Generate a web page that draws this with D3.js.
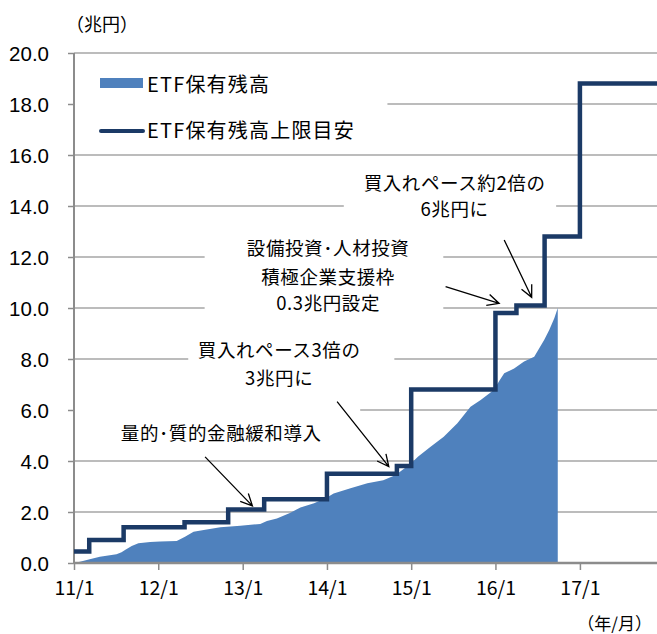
<!DOCTYPE html>
<html>
<head>
<meta charset="utf-8">
<script src="https://cdn.jsdelivr.net/npm/d3@7"></script>
<style>
  body { margin: 0; background: #fff; }
  svg { display: block; }
</style>
</head>
<body>
<svg id="chart" width="657" height="634"></svg>
<script>
// ---- data -----------------------------------------------------------
const xTickDates  = ["2011-01-01","2012-01-01","2013-01-01","2014-01-01","2015-01-01","2016-01-01","2017-01-01"];
const xTickLabels = ["11/1","12/1","13/1","14/1","15/1","16/1","17/1"];
const yTickValues = [0, 2, 4, 6, 8, 10, 12, 14, 16, 18, 20];
const yTickLabels = ["0.0","2.0","4.0","6.0","8.0","10.0","12.0","14.0","16.0","18.0","20.0"];

// ETF保有残高上限目安 (step changes, 兆円)
const capDates  = ["2011-01-01","2011-03-08","2011-08-04","2012-04-24","2012-10-30","2013-04-04",
                   "2014-01-01","2014-10-31","2015-01-01","2016-01-01","2016-04-01","2016-08-01",
                   "2017-01-01","2017-12-01"];
const capValues = [0.45, 0.9, 1.4, 1.6, 2.1, 2.5, 3.5, 3.8, 6.8, 9.8, 10.1, 12.8, 18.8, 18.8];

// ETF保有残高 (兆円)
const etfDates  = ["2011-01-01","2011-01-27","2011-03-10","2011-04-23","2011-07-04","2011-07-26",
                   "2011-08-10","2011-09-08","2011-10-07","2011-11-27","2012-01-09","2012-03-21",
                   "2012-04-26","2012-06-02","2012-07-16","2012-09-26","2012-12-22","2013-03-18",
                   "2013-04-16","2013-05-29","2013-07-27","2013-09-08","2013-11-06","2013-12-28",
                   "2014-01-30","2014-04-13","2014-06-25","2014-09-02","2014-10-26","2015-01-01",
                   "2015-01-30","2015-03-26","2015-05-22","2015-07-20","2015-09-15","2015-10-29",
                   "2015-12-25","2016-01-20","2016-02-08","2016-03-22","2016-05-04","2016-06-17",
                   "2016-07-30","2016-08-21","2016-09-12","2016-09-27"];
const etfValues = [0.0, 0.05, 0.15, 0.25, 0.34, 0.42,
                   0.51, 0.67, 0.77, 0.82, 0.84, 0.86,
                   1.03, 1.23, 1.29, 1.40, 1.46, 1.53,
                   1.65, 1.75, 1.97, 2.18, 2.34, 2.55,
                   2.73, 2.93, 3.13, 3.25, 3.45, 3.91,
                   4.17, 4.56, 4.95, 5.48, 6.13, 6.39,
                   6.78, 7.18, 7.44, 7.63, 7.90, 8.09,
                   8.75, 9.14, 9.60, 10.0];

const seriesNames = ["ETF保有残高", "ETF保有残高上限目安"];

// ---- layout ---------------------------------------------------------
const plot = { left: 74, right: 657, top: 53, bottom: 563 };
const JP = '"Noto Sans CJK JP", "Noto Sans", sans-serif';
const NUM = '"Liberation Sans", Arial, sans-serif';
const AREA_COLOR = "#4F81BD";
const LINE_COLOR = "#1B3A66";
const GRID_COLOR = "#A6A6A6";
const AXIS_COLOR = "#8C8C8C";

const parse = d3.timeParse("%Y-%m-%d");
const svg = d3.select("#chart");

const x = d3.scaleTime()
  .domain([parse("2011-01-01"), parse("2017-12-01")])
  .range([plot.left, plot.right]);
const y = d3.scaleLinear().domain([0, 20]).range([plot.bottom, plot.top]);

const etf = etfDates.map((d, i) => ({ date: parse(d), value: etfValues[i] }));
const cap = capDates.map((d, i) => ({ date: parse(d), value: capValues[i] }));

// gridlines
svg.append("g").selectAll("line")
  .data(yTickValues.filter(v => v > 0))
  .join("line")
  .attr("x1", plot.left).attr("x2", plot.right)
  .attr("y1", d => y(d)).attr("y2", d => y(d))
  .attr("stroke", GRID_COLOR).attr("stroke-width", 1.5);

// white text boxes that sit over the grid
const boxes = [
  { x0: "2011-01-01", x1: "2014-09-20", y0: 19.8, y1: 16.5 },   // legend
  { x0: "2011-01-01", x1: "2014-05-25", y0: 6.5,  y1: 4.4 },    // 量的・質的
  { x0: "2012-05-10", x1: "2014-10-20", y0: 9.0,  y1: 6.8 },    // 3倍
  { x0: "2012-07-20", x1: "2015-05-20", y0: 13.0, y1: 9.7 },    // 設備投資
  { x0: "2014-03-15", x1: "2016-09-20", y0: 15.2, y1: 13.0 }    // 約2倍
];
svg.append("g").selectAll("rect")
  .data(boxes)
  .join("rect")
  .attr("x", d => x(parse(d.x0)))
  .attr("y", d => y(d.y0))
  .attr("width", d => x(parse(d.x1)) - x(parse(d.x0)))
  .attr("height", d => y(d.y1) - y(d.y0))
  .attr("fill", "#fff");

// ETF holdings area
svg.append("path")
  .datum(etf)
  .attr("fill", AREA_COLOR)
  .attr("d", d3.area()
    .x(d => x(d.date))
    .y0(y(0))
    .y1(d => y(d.value)));

// axes
const yAxis = svg.append("g")
  .attr("transform", `translate(${plot.left},0)`)
  .call(d3.axisLeft(y).tickValues(yTickValues).tickSize(6).tickFormat((d, i) => yTickLabels[i]));
yAxis.select(".domain").attr("stroke", AXIS_COLOR).attr("stroke-width", 2)
  .attr("d", `M0,${plot.top}V${plot.bottom}`);
yAxis.selectAll(".tick line").attr("stroke", AXIS_COLOR).attr("stroke-width", 1.5);
yAxis.selectAll(".tick text")
  .attr("x", -25)
  .attr("dy", "0.37em")
  .attr("fill", "#000")
  .style("font-family", NUM)
  .style("font-size", "20.5px");

const xAxis = svg.append("g")
  .attr("transform", `translate(0,${plot.bottom})`)
  .call(d3.axisBottom(x).tickValues(xTickDates.map(parse)).tickSize(7)
    .tickFormat((d, i) => xTickLabels[i]));
xAxis.select(".domain").attr("stroke", AXIS_COLOR).attr("stroke-width", 2.5)
  .attr("d", `M${plot.left},0H${plot.right}`);
xAxis.selectAll(".tick line").attr("stroke", AXIS_COLOR).attr("stroke-width", 1.5);
xAxis.selectAll(".tick text")
  .attr("y", 32)
  .attr("dy", 0)
  .attr("fill", "#000")
  .style("font-family", JP)
  .style("font-size", "19.5px");

// cap step line
svg.append("path")
  .datum(cap)
  .attr("fill", "none")
  .attr("stroke", LINE_COLOR)
  .attr("stroke-width", 4.5)
  .attr("stroke-linejoin", "miter")
  .attr("d", d3.line().curve(d3.curveStepAfter)
    .x(d => x(d.date))
    .y(d => y(d.value)));

// unit labels
svg.append("text").attr("x", 66).attr("y", 31)
  .style("font-family", JP).style("font-size", "18px").text("（兆円）");
svg.append("text").attr("x", 652).attr("y", 630).attr("text-anchor", "end")
  .style("font-family", JP).style("font-size", "17px").text("（年/月）");

// legend
const legend = svg.append("g");
legend.append("rect")
  .attr("x", 100).attr("y", 78).attr("width", 43).attr("height", 10)
  .attr("fill", AREA_COLOR);
legend.append("line")
  .attr("x1", 101).attr("x2", 143).attr("y1", 131).attr("y2", 131)
  .attr("stroke", LINE_COLOR).attr("stroke-width", 4).attr("stroke-linecap", "round");
legend.selectAll("text")
  .data(seriesNames)
  .join("text")
  .attr("x", 147)
  .attr("y", (d, i) => 92 + i * 46)
  .style("font-family", JP)
  .style("font-size", "20px")
  .style("letter-spacing", "1.2px")
  .text(d => d);

// annotations: text anchored in data space
const notes = [
  { date: "2012-09-30", values: [5.1],               lines: ["量的･質的金融緩和導入"] },
  { date: "2013-06-08", values: [8.35, 7.25],        lines: ["買入れペース3倍の", "3兆円に"] },
  { date: "2014-01-06", values: [12.35, 11.2, 10.2], lines: ["設備投資･人材投資", "積極企業支援枠", "0.3兆円設定"] },
  { date: "2015-07-08", values: [14.9, 13.85],       lines: ["買入れペース約2倍の", "6兆円に"] }
];
notes.forEach(n => {
  n.lines.forEach((t, i) => {
    svg.append("text")
      .attr("x", x(parse(n.date)))
      .attr("y", y(n.values[i]))
      .attr("dy", "0.36em")
      .attr("text-anchor", "middle")
      .style("font-family", JP)
      .style("font-size", "18.5px")
      .style("letter-spacing", "0.6px")
      .text(t);
  });
});

// arrows with open heads
const arrows = [
  { from: ["2012-07-22", 4.16],  to: ["2013-02-12", 2.24] },
  { from: ["2014-02-14", 6.33],  to: ["2014-09-26", 3.78] },
  { from: ["2015-05-30", 10.84], to: ["2016-01-17", 10.18] },
  { from: ["2016-02-08", 12.67], to: ["2016-06-06", 10.42] }
];
const ag = svg.append("g").attr("stroke", "#000").attr("stroke-width", 1.3).attr("fill", "none");
arrows.forEach(a => {
  const x1 = x(parse(a.from[0])), y1 = y(a.from[1]);
  const x2 = x(parse(a.to[0])),   y2 = y(a.to[1]);
  const ang = Math.atan2(y2 - y1, x2 - x1);
  const len = 13, spread = 0.45;
  const hx1 = x2 - len * Math.cos(ang - spread), hy1 = y2 - len * Math.sin(ang - spread);
  const hx2 = x2 - len * Math.cos(ang + spread), hy2 = y2 - len * Math.sin(ang + spread);
  ag.append("path").attr("d", `M${x1},${y1}L${x2},${y2}M${hx1},${hy1}L${x2},${y2}L${hx2},${hy2}`);
});
</script>
</body>
</html>
